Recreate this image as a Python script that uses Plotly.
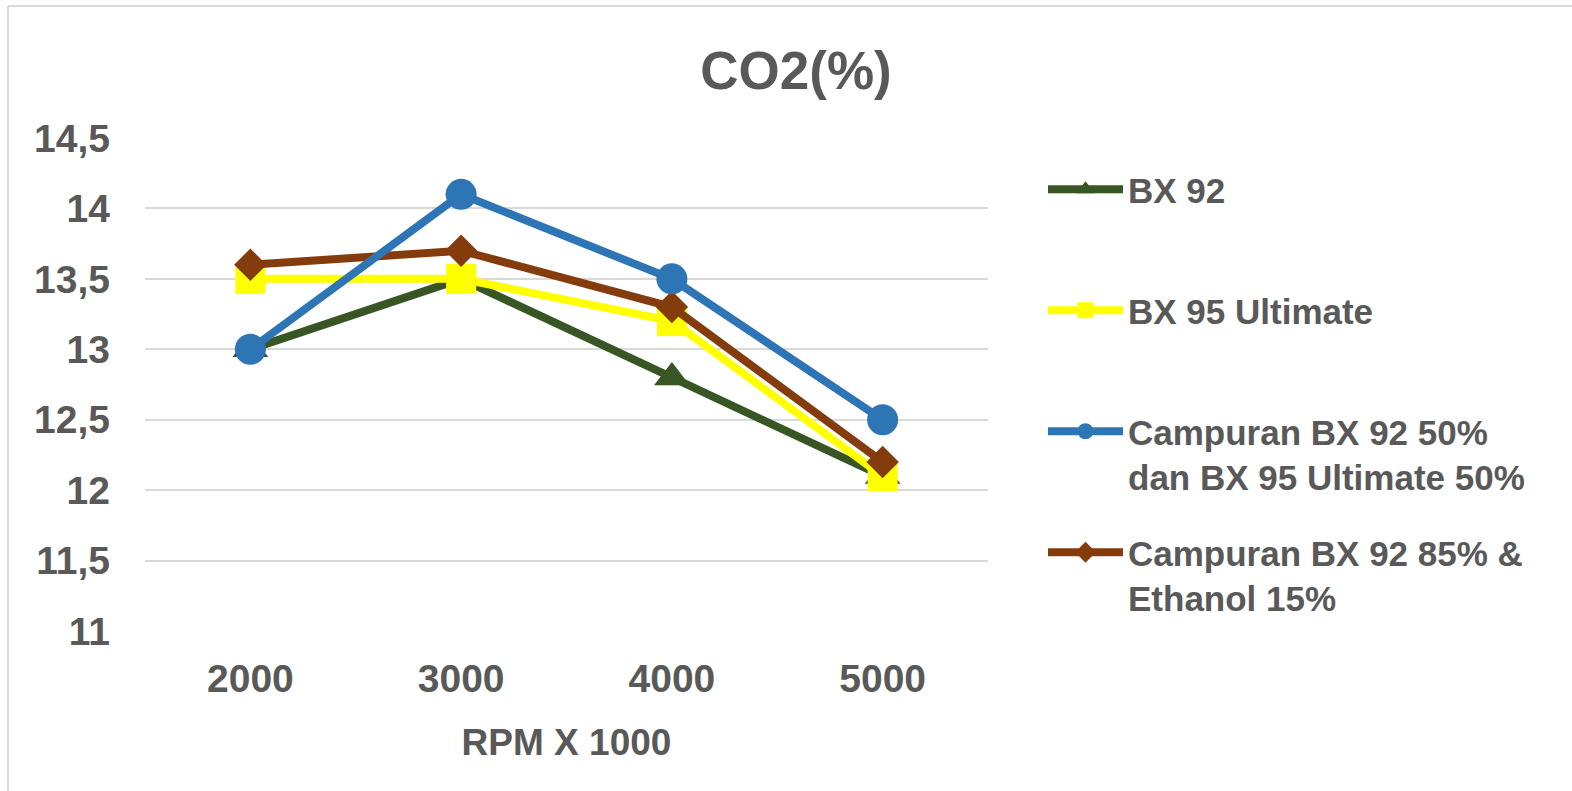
import plotly.graph_objects as go

rpm = ["2000", "3000", "4000", "5000"]
bx92 = [13.0, 13.5, 12.8, 12.1]
bx95 = [13.5, 13.5, 13.2, 12.1]
mix50 = [13.0, 14.1, 13.5, 12.5]
mix85 = [13.6, 13.7, 13.3, 12.2]

names = ["BX 92", "BX 95 Ultimate",
         "Campuran BX 92 50%<br>dan BX 95 Ultimate 50%",
         "Campuran BX 92 85% &<br>Ethanol 15%"]
y_ticks = [11, 11.5, 12, 12.5, 13, 13.5, 14, 14.5]
y_tick_text = ["11", "11,5", "12", "12,5", "13", "13,5", "14", "14,5"]

FONT = "Liberation Sans, Arial, sans-serif"
GRAY = "#595959"

# plot area in pixels
L, R, T, B = 145, 988, 138, 631
PW, PH = R - L, B - T

fig = go.Figure()
# drawing order: green, yellow, brown, blue (legend order via legendrank)
fig.add_trace(go.Scatter(x=rpm, y=bx92, name=names[0] + "<br> ", mode="lines+markers",
                         line=dict(color="#375623", width=8),
                         marker=dict(symbol="triangle-up", size=31, color="#375623"),
                         legendrank=1, legendgroup="a"))
fig.add_trace(go.Scatter(x=rpm, y=bx95, name=names[1] + "<br> ", mode="lines+markers",
                         line=dict(color="#FFFF00", width=8),
                         marker=dict(symbol="square", size=30, color="#FFFF00"),
                         legendrank=2, legendgroup="b"))
fig.add_trace(go.Scatter(x=rpm, y=mix85, name=names[3], mode="lines+markers",
                         line=dict(color="#843C0C", width=8),
                         marker=dict(symbol="diamond", size=25, color="#843C0C"),
                         legendrank=4, legendgroup="d"))
fig.add_trace(go.Scatter(x=rpm, y=mix50, name=names[2], mode="lines+markers",
                         line=dict(color="#2E75B6", width=8),
                         marker=dict(symbol="circle", size=31, color="#2E75B6"),
                         legendrank=3, legendgroup="c"))

fig.update_layout(
    width=1572, height=791,
    margin=dict(l=L, r=1572 - R, t=T, b=791 - B),
    paper_bgcolor="white", plot_bgcolor="white",
    font=dict(family=FONT, color=GRAY),
    title=dict(text="<b>CO2(%)</b>", font=dict(size=53, color=GRAY, family=FONT),
               xref="container", x=796 / 1572, xanchor="center",
               yref="container", y=1 - 70 / 791, yanchor="middle"),
    xaxis=dict(type="category", range=[-0.5, 3.5], showgrid=False, zeroline=False,
               showline=False, ticks="",
               tickfont=dict(size=39, color=GRAY, family=FONT, weight="bold"),
               ticklabelstandoff=21,
               title=dict(text="<b>RPM X 1000</b>", font=dict(size=37, color=GRAY, family=FONT),
                          standoff=30)),
    yaxis=dict(range=[11, 14.5], tickvals=y_ticks, ticktext=y_tick_text,
               showgrid=True, gridcolor="#D9D9D9", gridwidth=2, zeroline=False,
               showline=False, ticks="",
               tickfont=dict(size=39, color=GRAY, family=FONT, weight="bold"),
               ticklabelstandoff=34),
    legend=dict(x=(1043 - L) / PW, xref="paper", xanchor="left",
                y=(B - 160) / PH, yref="paper", yanchor="top",
                font=dict(size=35, color=GRAY, family=FONT, weight="bold"),
                valign="top", itemwidth=75, tracegroupgap=27,
                bgcolor="rgba(0,0,0,0)"),
    showlegend=True,
)

# outer chart frame (top and left edges visible)
fig.add_shape(type="line", xref="paper", yref="paper",
              x0=(8 - L) / PW, x1=(1572 - L) / PW,
              y0=(B - 6) / PH, y1=(B - 6) / PH,
              line=dict(color="#D9D9D9", width=2))
fig.add_shape(type="line", xref="paper", yref="paper",
              x0=(8 - L) / PW, x1=(8 - L) / PW,
              y0=(B - 6) / PH, y1=(B - 791) / PH,
              line=dict(color="#D9D9D9", width=2))

fig.write_html("out.html")
